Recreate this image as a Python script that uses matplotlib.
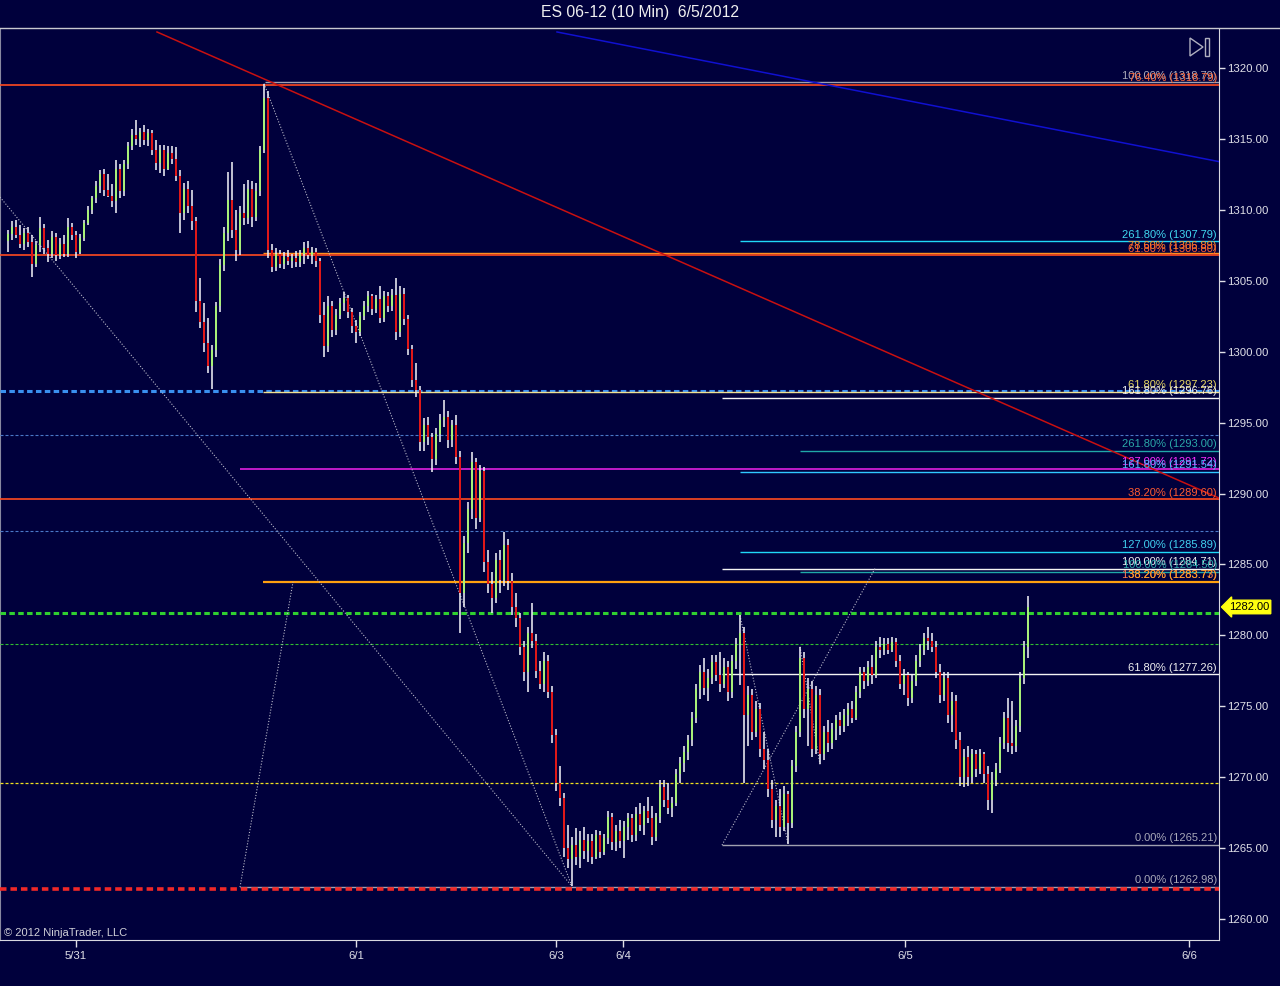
import numpy as np
import matplotlib
matplotlib.use("Agg")
import matplotlib.pyplot as plt
from matplotlib.lines import Line2D
from matplotlib.patches import Polygon, Rectangle

plt.rcParams['font.family'] = ['Liberation Sans', 'DejaVu Sans']

TITLE = "ES 06-12 (10 Min)  6/5/2012"
COPYRIGHT = "\u00a9 2012 NinjaTrader, LLC"

OPEN = [
1307.8,1308.3,1308.8,1308.2,1307.6,1308.4,1307.7,1306.2,1307.5,1308.7,
1307.3,1306.9,1308.1,1306.8,1307.6,1306.9,1308.8,1308.2,1307.0,1308.0,
1309.1,1310.0,1310.8,1311.7,1312.5,1311.4,1311.0,1310.6,1312.9,1311.3,
1313.2,1314.5,1315.3,1315.0,1315.5,1314.9,1315.4,1314.2,1313.3,1314.2,
1312.9,1314.0,1313.6,1312.4,1309.8,1311.5,1310.3,1309.2,1303.6,1302.1,
1300.6,1299.0,1300.1,1303.2,1306.1,1308.4,1310.7,1308.6,1307.2,1309.8,
1309.4,1311.5,1309.5,1311.3,1314.2,1317.9,1307.2,1306.0,1306.9,1306.2,
1306.7,1306.4,1306.6,1306.3,1306.9,1307.3,1306.8,1307.0,1306.4,1302.6,
1300.4,1303.2,1301.5,1302.6,1303.4,1303.8,1302.8,1301.8,1301.4,1302.5,
1303.2,1303.9,1303.0,1303.7,1302.4,1303.9,1303.2,1304.0,1301.4,1304.1,
1302.3,1300.2,1298.0,1297.3,1293.6,1294.8,1294.0,1292.4,1294.2,1295.2,
1295.4,1293.8,1294.8,1292.6,1283.0,1286.5,1288.9,1292.2,1288.3,1291.6,
1285.2,1283.6,1282.6,1285.3,1283.9,1286.4,1283.8,1282.0,1281.2,1279.2,
1277.4,1280.2,1279.6,1277.5,1276.6,1278.2,1276.0,1273.0,1269.6,1268.5,
1265.0,1264.2,1265.2,1264.4,1265.6,1264.8,1265.5,1264.4,1265.9,1264.7,
1265.7,1267.2,1265.4,1266.2,1265.5,1266.5,1267.1,1265.9,1267.4,1266.6,
1267.6,1267.1,1265.8,1267.2,1269.3,1268.4,1267.8,1268.2,1270.2,1271.0,
1271.8,1272.6,1274.2,1276.2,1277.4,1276.3,1277.0,1278.1,1277.2,1276.6,
1277.8,1276.0,1278.2,1279.4,1280.2,1274.4,1275.8,1273.2,1274.8,1272.0,
1271.2,1269.2,1267.0,1268.0,1266.5,1268.8,1266.8,1270.8,1273.2,1278.4,
1274.8,1276.2,1272.0,1275.8,1271.6,1273.2,1272.4,1273.4,1274.0,1273.6,
1274.4,1274.8,1274.2,1276.0,1277.4,1276.8,1277.8,1277.2,1279.2,1279.0,
1279.4,1279.0,1279.5,1278.2,1276.6,1277.2,1275.6,1276.8,1278.2,1279.0,
1279.8,1279.6,1279.2,1277.4,1275.8,1277.0,1274.4,1275.4,1272.6,1270.0,
1271.4,1270.0,1271.6,1270.6,1271.6,1270.2,1268.4,1269.8,1270.6,1272.4,
1274.2,1272.4,1272.2,1273.6,1277.0,1279.2]

HIGH = [
1308.6,1309.2,1309.3,1308.9,1308.7,1308.8,1308.2,1307.8,1309.5,1309.0,
1307.9,1308.5,1308.4,1308.0,1308.2,1309.4,1309.1,1308.5,1308.3,1309.3,
1310.3,1311.0,1312.0,1312.8,1312.9,1312.5,1311.8,1313.5,1313.2,1313.5,
1314.8,1315.7,1316.3,1315.8,1316.0,1315.7,1315.6,1314.9,1314.6,1314.6,
1314.5,1314.5,1314.4,1312.8,1311.9,1312.0,1311.4,1309.5,1305.2,1303.4,
1302.4,1300.5,1303.5,1306.5,1308.8,1312.7,1313.4,1310.0,1310.3,1311.8,
1312.1,1312.0,1311.9,1314.5,1318.9,1318.4,1307.6,1307.3,1307.2,1307.0,
1307.2,1306.9,1307.1,1307.2,1307.7,1307.8,1307.4,1307.3,1306.6,1303.5,
1303.9,1303.6,1303.0,1303.8,1304.2,1304.0,1303.1,1302.2,1302.8,1303.6,
1304.3,1304.1,1304.0,1304.6,1304.3,1304.2,1304.4,1305.2,1304.6,1304.5,
1302.6,1300.5,1299.2,1297.6,1295.3,1295.4,1294.3,1294.6,1295.6,1296.6,
1295.8,1295.2,1295.5,1293.0,1287.0,1289.4,1292.9,1292.5,1292.0,1291.9,
1286.0,1284.5,1285.8,1286.0,1287.3,1286.8,1284.4,1283.0,1281.6,1279.6,
1280.6,1282.3,1280.1,1278.2,1278.8,1278.6,1276.4,1273.4,1270.8,1268.9,
1266.6,1265.8,1266.4,1266.2,1266.5,1266.0,1266.0,1266.3,1266.2,1266.0,
1267.6,1267.5,1266.6,1267.0,1266.9,1267.5,1267.4,1267.9,1268.2,1268.0,
1268.6,1268.0,1267.5,1269.8,1269.8,1269.6,1268.6,1270.6,1271.4,1272.2,
1273.0,1274.6,1276.6,1277.9,1278.4,1277.6,1278.6,1278.6,1278.8,1278.4,
1278.2,1278.6,1279.8,1281.4,1280.6,1276.4,1276.2,1275.4,1275.2,1273.2,
1272.0,1269.8,1268.4,1269.2,1269.4,1269.0,1271.2,1273.6,1279.2,1278.8,
1277.0,1276.8,1276.4,1276.2,1273.6,1274.0,1273.8,1274.4,1274.6,1274.8,
1275.2,1275.4,1276.4,1277.8,1277.8,1278.2,1278.6,1279.6,1279.9,1279.8,
1279.8,1279.9,1279.8,1278.6,1277.6,1277.4,1277.2,1278.6,1279.4,1280.2,
1280.6,1280.2,1279.6,1278.0,1277.4,1277.4,1276.0,1275.8,1273.2,1272.0,
1272.2,1272.0,1271.9,1272.0,1271.8,1270.8,1270.4,1271.0,1272.8,1274.6,
1275.6,1275.4,1274.0,1277.4,1279.6,1282.8]

LOW = [
1307.0,1307.9,1308.0,1307.3,1307.2,1307.4,1305.3,1306.0,1307.0,1306.9,
1306.3,1306.6,1306.4,1306.5,1306.7,1306.7,1307.9,1306.6,1306.9,1307.8,
1308.9,1309.7,1310.5,1311.2,1311.0,1310.9,1310.2,1309.8,1310.8,1311.0,
1312.9,1314.2,1314.6,1314.4,1314.6,1314.5,1313.9,1312.8,1312.6,1312.4,
1312.8,1313.2,1312.0,1308.4,1309.3,1309.8,1308.6,1302.8,1301.7,1300.0,
1298.5,1297.4,1299.6,1302.8,1305.7,1307.8,1308.0,1306.4,1306.8,1308.9,
1309.0,1308.8,1309.2,1311.0,1314.0,1306.6,1305.6,1305.7,1305.9,1305.8,
1306.1,1305.9,1306.0,1306.0,1306.2,1306.5,1306.2,1306.0,1302.0,1299.6,
1300.0,1301.0,1301.2,1302.3,1302.9,1302.4,1301.3,1300.6,1301.1,1302.2,
1302.8,1302.6,1302.7,1302.0,1302.1,1302.8,1302.9,1300.8,1301.0,1301.9,
1299.8,1297.5,1296.8,1293.0,1293.0,1293.4,1291.5,1292.0,1293.6,1294.7,
1293.2,1293.3,1292.1,1280.2,1282.0,1285.8,1288.2,1287.5,1288.0,1284.5,
1283.0,1281.6,1282.3,1283.0,1283.5,1283.2,1281.4,1280.6,1278.6,1276.8,
1276.0,1279.1,1277.0,1276.2,1276.0,1275.6,1272.4,1269.0,1268.0,1264.4,
1263.6,1262.3,1263.8,1263.6,1264.2,1264.0,1263.9,1264.2,1264.3,1264.5,
1265.3,1264.9,1264.8,1265.0,1264.3,1265.6,1265.4,1265.5,1266.2,1265.9,
1266.8,1265.2,1265.5,1266.8,1267.9,1267.4,1267.2,1268.0,1269.6,1270.4,
1271.2,1272.2,1273.8,1275.5,1275.8,1275.4,1276.6,1276.8,1276.0,1276.3,
1275.4,1275.6,1277.6,1276.5,1269.6,1272.2,1272.6,1272.8,1271.4,1270.6,
1268.6,1266.4,1265.8,1265.8,1266.2,1265.3,1266.4,1270.4,1272.8,1274.2,
1272.2,1271.4,1271.6,1270.9,1271.2,1271.8,1272.0,1272.6,1273.0,1273.2,
1273.6,1273.8,1274.0,1275.6,1276.2,1276.4,1276.6,1277.0,1278.4,1278.6,
1278.7,1278.8,1277.8,1276.2,1275.8,1275.0,1275.2,1276.4,1277.8,1278.6,
1279.0,1278.8,1277.0,1275.2,1275.4,1273.8,1273.2,1272.0,1269.4,1269.3,
1269.4,1269.6,1270.0,1270.2,1269.6,1267.7,1267.5,1269.4,1270.3,1272.0,
1271.8,1271.6,1271.8,1273.2,1276.6,1278.4]

CLOSE = [
1308.3,1308.8,1308.2,1307.6,1308.4,1307.7,1306.2,1307.5,1308.7,1307.3,
1306.9,1308.1,1306.8,1307.6,1306.9,1308.8,1308.2,1307.0,1308.0,1309.1,
1310.0,1310.8,1311.7,1312.5,1311.4,1311.0,1310.6,1312.9,1311.3,1313.2,
1314.5,1315.3,1315.0,1315.5,1314.9,1315.4,1314.2,1313.3,1314.2,1312.9,
1314.0,1313.6,1312.4,1309.8,1311.5,1310.3,1309.2,1303.6,1302.1,1300.6,
1299.0,1300.1,1303.2,1306.1,1308.4,1310.7,1308.6,1307.2,1309.8,1309.4,
1311.5,1309.5,1311.3,1314.2,1317.9,1307.2,1306.0,1306.9,1306.2,1306.7,
1306.4,1306.6,1306.3,1306.9,1307.3,1306.8,1307.0,1306.4,1302.6,1300.4,
1303.2,1301.5,1302.6,1303.4,1303.8,1302.8,1301.8,1301.4,1302.5,1303.2,
1303.9,1303.0,1303.7,1302.4,1303.9,1303.2,1304.0,1301.4,1304.1,1302.3,
1300.2,1298.0,1297.3,1293.6,1294.8,1294.0,1292.4,1294.2,1295.2,1295.4,
1293.8,1294.8,1292.6,1283.0,1286.5,1288.9,1292.2,1288.3,1291.6,1285.2,
1283.6,1282.6,1285.3,1283.9,1286.4,1283.8,1282.0,1281.2,1279.2,1277.4,
1280.2,1279.6,1277.5,1276.6,1278.2,1276.0,1273.0,1269.6,1268.5,1265.0,
1264.2,1265.2,1264.4,1265.6,1264.8,1265.5,1264.4,1265.9,1264.7,1265.7,
1267.2,1265.4,1266.2,1265.5,1266.5,1267.1,1265.9,1267.4,1266.6,1267.6,
1267.1,1265.8,1267.2,1269.3,1268.4,1267.8,1268.2,1270.2,1271.0,1271.8,
1272.6,1274.2,1276.2,1277.4,1276.3,1277.0,1278.1,1277.2,1276.6,1277.8,
1276.0,1278.2,1279.4,1280.2,1274.4,1275.8,1273.2,1274.8,1272.0,1271.2,
1269.2,1267.0,1268.0,1266.5,1268.8,1266.8,1270.8,1273.2,1278.4,1274.8,
1276.2,1272.0,1275.8,1271.6,1273.2,1272.4,1273.4,1274.0,1273.6,1274.4,
1274.8,1274.2,1276.0,1277.4,1276.8,1277.8,1277.2,1279.2,1279.0,1279.4,
1279.0,1279.5,1278.2,1276.6,1277.2,1275.6,1276.8,1278.2,1279.0,1279.8,
1279.6,1279.2,1277.4,1275.8,1277.0,1274.4,1275.4,1272.6,1270.0,1271.4,
1270.0,1271.6,1270.6,1271.6,1270.2,1268.4,1269.8,1270.6,1272.4,1274.2,
1272.4,1272.2,1273.6,1277.0,1279.2,1282.0]

DATE_LABELS = ["5/31", "6/1", "6/3", "6/4", "6/5", "6/6"]
DATE_POS = [17, 87, 137, 153.75, 224.25, 295.25]
PRICE_TICKS = [1260, 1265, 1270, 1275, 1280, 1285, 1290, 1295, 1300, 1305, 1310, 1315, 1320]
LAST_PRICE = 1282.00

# horizontal drawing-tool levels
LEVEL_PRICE = [1318.99, 1318.79, 1307.79, 1306.96, 1306.80, 1297.23, 1297.15, 1296.76,
               1294.12, 1293.00, 1291.72, 1291.54, 1289.60, 1287.35, 1285.89, 1284.71,
               1284.50, 1283.77, 1281.57, 1279.38, 1277.26, 1269.58, 1265.21, 1262.25, 1262.10]
LEVEL_START = [64.25, -2, 183, 63.75, -2, -2, 63.75, 178.5,
               -2, 198, 58, 183, -2, -2, 183, 178.5,
               198, 63.75, -2, -2, 178.5, -2, 178.5, 58, -2]
LEVEL_STYLE = ["gray", "ored", "cyan", "orange", "ored", "bluedash", "khaki", "white",
               "thindash", "teal", "magenta", "cyan2", "ored", "thindash", "cyan", "white",
               "teal", "orange2", "greendash", "greenthin", "white", "yellowthin", "gray", "gray", "reddash"]

LABEL_TEXT = ["100.00% (1318.79)", "76.40% (1318.79)", "261.80% (1307.79)", "78.60% (1306.89)",
              "61.80% (1306.80)", "61.80% (1297.23)", "161.80% (1296.76)", "261.80% (1293.00)",
              "127.00% (1291.72)", "161.80% (1291.54)", "38.20% (1289.60)", "127.00% (1285.89)",
              "100.00% (1284.71)", "100.00% (1284.50)", "138.20% (1283.73)", "38.20% (1283.77)",
              "61.80% (1277.26)", "0.00% (1265.21)", "0.00% (1262.98)"]
LABEL_PRICE = [1318.99, 1318.79, 1307.79, 1306.96, 1306.80, 1297.15, 1296.76, 1293.00,
               1291.72, 1291.54, 1289.60, 1285.89, 1284.71, 1284.50, 1283.77, 1283.77,
               1277.26, 1265.21, 1262.25]
LABEL_COLOR = ["#A8A8B8", "#FF6A3A", "#40D8F0", "#FF9020", "#FF5A30", "#E8D860", "#F0F0F0", "#2AA8A8",
               "#FF30FF", "#50B8FF", "#FF5A30", "#40D0F0", "#F0F0F0", "#2AA8A8", "#FF7A50", "#FFA020",
               "#F0F0F0", "#A8A8B8", "#A8A8B8"]

# trend lines (bar index, price)
TREND_X0 = [37.25, 137.25]
TREND_Y0 = [1322.54, 1322.54]
TREND_X1 = [302.75, 302.75]
TREND_Y1 = [1289.68, 1313.40]
TREND_COLOR = ["#C81010", "#1010D0"]

# dotted fib/zigzag lines
DOT_X0 = [-2, 64, 58, 178.5, 183, 198]
DOT_Y0 = [1310.9, 1318.9, 1262.25, 1265.21, 1281.4, 1279.2]
DOT_X1 = [141, 141, 71.25, 216.75, 195, 203]
DOT_Y1 = [1262.3, 1262.3, 1283.77, 1284.71, 1265.3, 1270.9]

STYLES = {
    "gray": dict(color="#A0A0B0", lw=1.0, ls="-"),
    "ored": dict(color="#FF4A20", lw=1.2, ls="-"),
    "cyan": dict(color="#20D8F8", lw=1.0, ls="-"),
    "cyan2": dict(color="#30C8FF", lw=1.0, ls="-"),
    "orange": dict(color="#FF9020", lw=1.0, ls="-"),
    "orange2": dict(color="#FFA010", lw=1.6, ls="-"),
    "bluedash": dict(color="#3A90F0", lw=2.2, ls=(0, (1.8, 1.1))),
    "khaki": dict(color="#F0E090", lw=1.0, ls="-"),
    "white": dict(color="#F4F4F4", lw=1.0, ls="-"),
    "thindash": dict(color="#4A78C8", lw=0.8, ls=(0, (2.7, 1.8))),
    "teal": dict(color="#20A8A8", lw=1.0, ls="-"),
    "magenta": dict(color="#E020E0", lw=1.2, ls="-"),
    "greendash": dict(color="#30D030", lw=2.2, ls=(0, (1.8, 1.1))),
    "greenthin": dict(color="#30C030", lw=0.8, ls=(0, (2.7, 1.8))),
    "yellowthin": dict(color="#F0E020", lw=0.9, ls=(0, (2.4, 1.6))),
    "reddash": dict(color="#F02828", lw=2.6, ls=(0, (1.8, 1.1))),
}

BG = "#00003C"
FG = "#E0E0E8"
W, H = 1280, 986

fig = plt.figure(figsize=(W / 100, H / 100), dpi=100, facecolor=BG)
ax = fig.add_axes([0, (H - 940) / H, 1219 / W, (940 - 29) / H], facecolor=BG)

XMIN, XMAX = -2, 302.75
ax.set_xlim(XMIN, XMAX)
ax.set_ylim(1258.52, 1322.75)

# horizontal levels
for p, s, key in zip(LEVEL_PRICE, LEVEL_START, LEVEL_STYLE):
    st = STYLES[key]
    ax.plot([s, XMAX], [p, p], color=st["color"], lw=st["lw"], linestyle=st["ls"],
            zorder=3 if key != "reddash" else 4, solid_capstyle="butt")

# trend lines
for x0, y0, x1, y1, c in zip(TREND_X0, TREND_Y0, TREND_X1, TREND_Y1, TREND_COLOR):
    ax.plot([x0, x1], [y0, y1], color=c, lw=1.1, zorder=3)

# dotted lines
for x0, y0, x1, y1 in zip(DOT_X0, DOT_Y0, DOT_X1, DOT_Y1):
    ax.plot([x0, x1], [y0, y1], color="#B8B8C8", lw=0.8, linestyle=(0, (1, 1.6)), zorder=3)

# bars
o = np.array(OPEN); h = np.array(HIGH); l = np.array(LOW); c = np.array(CLOSE)
x = np.arange(len(c))
ax.vlines(x, l, h, color="#ECECF4", lw=1.15, zorder=5)
up = c >= o
ax.bar(x[up], (c - o)[up], bottom=o[up], width=0.5, color="#A8F078", linewidth=0, zorder=6)
ax.bar(x[~up], (c - o)[~up], bottom=o[~up], width=0.5, color="#E01818", linewidth=0, zorder=6)

# fib labels
for t, p, col in zip(LABEL_TEXT, LABEL_PRICE, LABEL_COLOR):
    ax.annotate(t, xy=(1, p), xycoords=("axes fraction", "data"), xytext=(-1.5, 1.2),
                textcoords="offset points", ha="right", va="bottom", fontsize=8.0,
                color=col, zorder=7)

# axes styling
ax.spines["top"].set_visible(False)
ax.spines["left"].set_color("#8888A0")
ax.spines["right"].set_color("#D8D8E0")
ax.spines["bottom"].set_color("#D8D8E0")
ax.yaxis.tick_right()
ax.set_yticks(PRICE_TICKS)
ax.set_yticklabels([f"{v:.2f}" for v in PRICE_TICKS])
ax.tick_params(axis="y", colors=FG, labelsize=8.2, length=4, width=1, pad=2, direction="out")
ax.set_xticks(DATE_POS)
ax.set_xticklabels(DATE_LABELS)
ax.tick_params(axis="x", colors=FG, labelsize=8.2, length=5, width=1, pad=3, direction="out")

ax.text(0.003, 0.002, COPYRIGHT, transform=ax.transAxes, ha="left", va="bottom",
        fontsize=8.0, color="#D0D0D8", zorder=8)

# last price marker
ax.annotate(f"{LAST_PRICE:.2f}", xy=(1, LAST_PRICE), xycoords=("axes fraction", "data"),
            xytext=(7, 0), textcoords="offset points", ha="left", va="center",
            fontsize=8.0, color="black", annotation_clip=False,
            bbox=dict(boxstyle="larrow,pad=0.16", fc="#FFFF10", ec="#FFFF10"))

# title
fig.text(0.5, 1 - 13 / H, TITLE, ha="center", va="center", color="#F0F0F0", fontsize=11.3)
fig.add_artist(Line2D([0, 1], [1 - 27.5 / H] * 2, color="#C8C8D0", lw=1, transform=fig.transFigure))

# scroll-to-end icon
tri = Polygon([[1190 / W, 1 - 38 / H], [1190 / W, 1 - 56 / H], [1203 / W, 1 - 47 / H]],
              closed=True, fill=False, ec="#B0B0C0", lw=1, transform=fig.transFigure)
fig.add_artist(tri)
rect = Rectangle((1205 / W, 1 - 56 / H), 4 / W, 18 / H, fill=False, ec="#B0B0C0", lw=1,
                 transform=fig.transFigure)
fig.add_artist(rect)

fig.savefig("out.png", dpi=100, facecolor=BG)
